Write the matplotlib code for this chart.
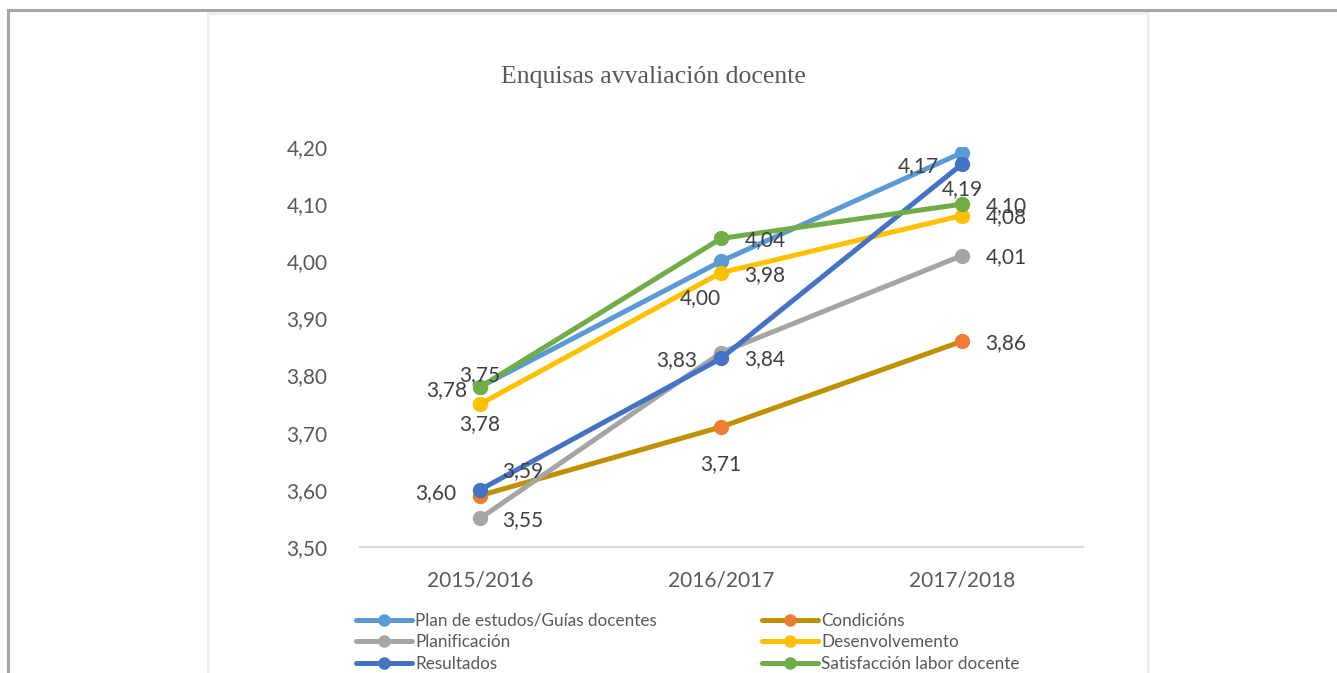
import matplotlib
matplotlib.use('Agg')
import matplotlib.pyplot as plt
from matplotlib.lines import Line2D
from matplotlib.patches import Rectangle

years = ['2015/2016', '2016/2017', '2017/2018']
series_names = ['Plan de estudos/Guías docentes', 'Condicións', 'Planificación',
                'Desenvolvemento', 'Resultados', 'Satisfacción labor docente']
plan = [3.78, 4.00, 4.19]
condicions = [3.59, 3.71, 3.86]
planificacion = [3.55, 3.84, 4.01]
desenvolvemento = [3.75, 3.98, 4.08]
resultados = [3.60, 3.83, 4.17]
satisfaccion = [3.78, 4.04, 4.10]
yticks = [3.5, 3.6, 3.7, 3.8, 3.9, 4.0, 4.1, 4.2]

values = [plan, condicions, planificacion, desenvolvemento, resultados, satisfaccion]
line_cols = ['#5B9BD5', '#BF9000', '#A5A5A5', '#FFC000', '#4472C4', '#70AD47']
mark_cols = ['#5B9BD5', '#ED7D31', '#A5A5A5', '#FFC000', '#4472C4', '#70AD47']
# label offsets in pixels (dx, dy up)
offs = [
    [(-33, -3), (-21, -37), (0, -36)],
    [(43, 24), (0, -37), (44, -2)],
    [(43, -2), (44, -6), (44, -2)],
    [(0, 29), (44, -2), (44, -2)],
    [(-44, -3), (-44, -2), (-44, -2)],
    [(0, -37), (44, -2), (44, -2)],
]

plt.rcParams['font.family'] = ['Lato', 'DejaVu Sans']
W, H = 1337, 673
fig = plt.figure(figsize=(W / 100, H / 100), dpi=100)

# outer frame lines and chart box
fig.add_artist(Line2D([8 / W, 1], [1 - 10 / H, 1 - 10 / H], color='#A6A6A6', lw=2.2))
fig.add_artist(Line2D([8 / W, 8 / W], [0, 1 - 10 / H], color='#A6A6A6', lw=2.2))
fig.add_artist(Rectangle((208 / W, -0.05), (1148 - 208) / W, 1.05 - 13 / H,
                         fill=False, ec='#EFEFEF', lw=2.2))

ax = fig.add_axes([359.5 / W, 1 - 547 / H, 723 / W, 400 / H])
x = list(range(len(years)))
for i in range(len(values)):
    ax.plot(x, values[i], color=line_cols[i], lw=3.6, marker='o', ms=10,
            mfc=mark_cols[i], mec=mark_cols[i], solid_capstyle='round',
            label=series_names[i], zorder=3 + i)
    for j in range(len(x)):
        dx, dy = offs[i][j]
        ax.annotate(f'{values[i][j]:.2f}'.replace('.', ','), (x[j], values[i][j]),
                    xytext=(dx, dy), textcoords='offset pixels', ha='center', va='center',
                    fontsize=15, color='#404040', zorder=20)

ax.set_xlim(-0.5, 2.5)
ax.set_ylim(3.5, 4.2)
ax.set_yticks(yticks)
ax.set_yticklabels([f'{v:.2f}'.replace('.', ',') for v in yticks])
ax.set_xticks(x)
ax.set_xticklabels(years)
for s in ['top', 'right', 'left']:
    ax.spines[s].set_visible(False)
ax.spines['bottom'].set_color('#D9D9D9')
ax.spines['bottom'].set_linewidth(1.6)
ax.tick_params(length=0, labelsize=15, labelcolor='#595959')
ax.tick_params(axis='y', pad=23)
ax.tick_params(axis='x', pad=17)

fig.text(653 / W, 1 - 77 / H, 'Enquisas avvaliación docente', ha='center', va='center',
         fontsize=18.5, color='#595959', family='Liberation Serif')

handles = ax.get_lines()
for col, xs in [((0, 2, 4), 356), ((1, 3, 5), 762)]:
    hs = [handles[k] for k in col]
    fig.legend(hs, [series_names[k] for k in col], loc='upper left',
               bbox_to_anchor=(xs / W, 1 - 613 / H), frameon=False, fontsize=12.3,
               handlelength=3.3, handletextpad=0.15, labelspacing=0.32, borderpad=0,
               borderaxespad=0, labelcolor='#595959', markerscale=0.8)

fig.savefig('out.png', dpi=100)
